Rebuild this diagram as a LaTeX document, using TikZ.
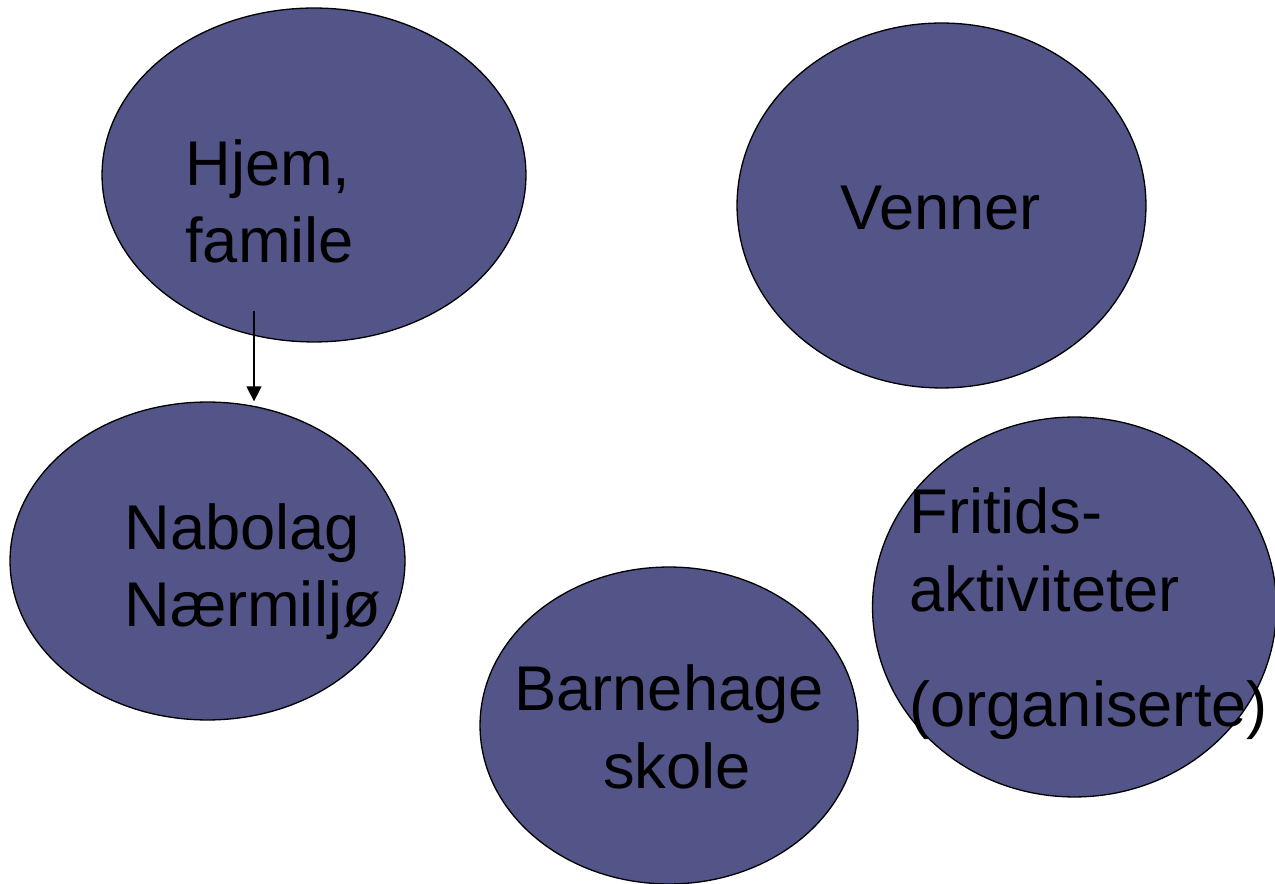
\documentclass[tikz,border=0pt]{standalone}
\usepackage{fontspec}
\setmainfont{Liberation Sans}
\usetikzlibrary{shapes.geometric,arrows.meta}
\definecolor{arenafill}{RGB}{83,85,137}
\tikzset{
  arena/.style={draw,ellipse,fill=arenafill,line width=0.75pt,inner sep=0pt},
  arenatext/.style={inner sep=0pt,font=\fontsize{36}{44}\selectfont}
}
\begin{document}
\begin{tikzpicture}[x=0.02cm,y=-0.02cm]
            \useasboundingbox (0,0) rectangle (1275,884);
            \node[arena,minimum width=8.48cm,minimum height=6.68cm] (hjem) at (314,175) {};
            \node[arena,minimum width=8.18cm,minimum height=7.30cm] (venner) at (941.5,205.5) {};
            \node[arena,minimum width=7.90cm,minimum height=6.36cm] (nabolag) at (207.5,561) {};
            \node[arena,minimum width=7.56cm,minimum height=6.34cm] (barnehage) at (669,725.5) {};
            \node[arena,minimum width=8.08cm,minimum height=7.60cm] (fritid) at (1074.5,607) {};
            
            % multi-line texts sit on the baseline of their last line
            \node[arenatext,anchor=base west,align=left] (hjemtxt) at (185,263) {Hjem,\\famile};
            \node[arenatext,anchor=base west] (vennertxt) at (840,230) {Venner};
            \node[arenatext,anchor=base west,align=left] (nabolagtxt) at (124,627) {Nabolag\\Nærmiljø};
            \node[arenatext,anchor=base,align=center] (barnehagetxt) at (669,788) {Barnehage\\\kern0.32cm skole};
            \node[arenatext,anchor=base west,align=left] (fritidtxt) at (909,727) {Fritids-\\aktiviteter\\[0.77cm](organiserte)};
            
            \coordinate (hjemfoot) at (254,311);
            \draw[-{Triangle[length=0.3cm,width=0.3cm]},line width=0.75pt] (hjemfoot) -- (hjemfoot |- nabolag.north);
        \end{tikzpicture}
\end{document}
